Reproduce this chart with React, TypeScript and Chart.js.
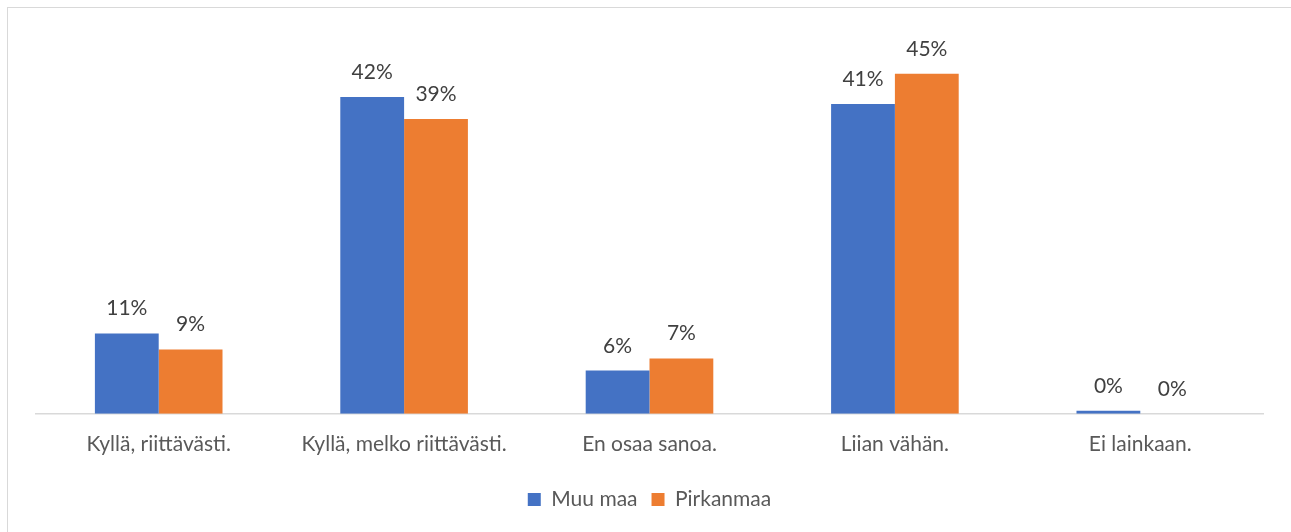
import React, { useEffect, useRef } from "react";
import { Chart, registerables } from "chart.js";

Chart.register(...registerables);

const categories = [
  "Kyllä, riittävästi.",
  "Kyllä, melko riittävästi.",
  "En osaa sanoa.",
  "Liian vähän.",
  "Ei lainkaan.",
];
const muuMaa = [10.6, 41.8, 5.7, 40.9, 0.4];
const pirkanmaa = [8.5, 38.9, 7.3, 44.9, 0];
const seriesNames = ["Muu maa", "Pirkanmaa"];
const yMax = 50;

const FONT = "Lato, 'Noto Sans', sans-serif";
const FS = 21;

const dataLabelPlugin = {
  id: "dataLabels",
  afterDatasetsDraw(chart: any) {
    const ctx = chart.ctx;
    ctx.save();
    ctx.font = `${FS}px ${FONT}`;
    ctx.fillStyle = "#404040";
    ctx.textAlign = "center";
    ctx.textBaseline = "alphabetic";
    chart.data.datasets.forEach((ds: any, di: number) => {
      const meta = chart.getDatasetMeta(di);
      meta.data.forEach((bar: any, i: number) => {
        const v = ds.data[i];
        ctx.fillText(`${Math.round(v)}%`, bar.x, bar.y - 18);
      });
    });
    ctx.restore();
  },
};

export default function App() {
  const ref = useRef<HTMLCanvasElement | null>(null);
  useEffect(() => {
    if (!ref.current) return;
    const chart = new Chart(ref.current, {
      type: "bar",
      data: {
        labels: categories,
        datasets: [
          { label: seriesNames[0], data: muuMaa, backgroundColor: "#4472C4" },
          { label: seriesNames[1], data: pirkanmaa, backgroundColor: "#ED7D31" },
        ],
      },
      options: {
        animation: false,
        responsive: false,
        maintainAspectRatio: false,
        datasets: {
          bar: { categoryPercentage: 0.52, barPercentage: 1 },
        },
        layout: { padding: { left: 36, right: 28, top: 35, bottom: 12 } },
        scales: {
          x: {
            grid: { display: false, drawTicks: false },
            border: { display: true, color: "#d9d9d9", width: 1.5 },
            ticks: {
              color: "#595959",
              font: { family: FONT, size: FS },
              padding: 18,
              maxRotation: 0,
              autoSkip: false,
            },
          },
          y: {
            display: false,
            min: 0,
            max: yMax,
          },
        },
        plugins: {
          legend: {
            position: "bottom",
            labels: {
              boxWidth: 13,
              boxHeight: 13,
              color: "#595959",
              font: { family: FONT, size: FS },
              padding: 14,
            },
          },
          tooltip: { enabled: false },
        },
      },
      plugins: [dataLabelPlugin],
    });
    return () => chart.destroy();
  }, []);
  return (
    <div style={{ position: "fixed", left: 0, top: 0, width: 1291, height: 532, background: "#fff" }}>
      <div
        style={{
          position: "absolute",
          left: 7,
          top: 7,
          width: 1290,
          height: 530,
          border: "1px solid #d9d9d9",
          boxSizing: "border-box",
        }}
      />
      <canvas ref={ref} width={1291} height={532} style={{ position: "absolute", left: 0, top: 0 }} />
    </div>
  );
}
